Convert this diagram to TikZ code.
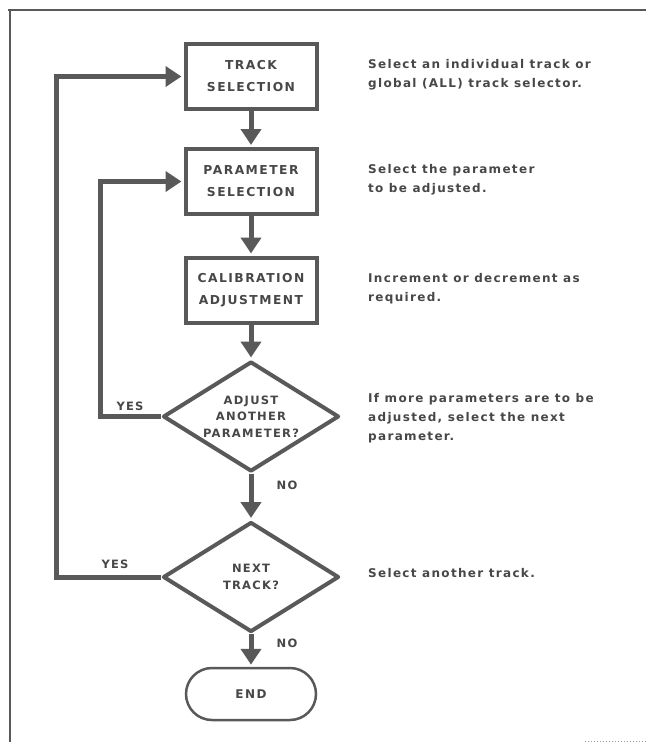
\documentclass[tikz,border=0pt]{standalone}
\usepackage{fontspec}
\newfontfamily\lbl[LetterSpace=11]{DejaVu Sans}
\newfontfamily\boxlbl[LetterSpace=12]{DejaVu Sans}
\usetikzlibrary{shapes.geometric,arrows.meta}
\definecolor{ink}{gray}{0.35}
\definecolor{txt}{gray}{0.28}
\begin{document}
\begin{tikzpicture}[x=1pt,y=-1pt,
  proc/.style={draw=ink, line width=4pt, minimum width=131pt, minimum height=65pt,
    align=center, inner sep=0pt, text=txt, font=\boxlbl\bfseries\fontsize{12.3}{22}\selectfont},
  decide/.style={diamond, draw=ink, line width=4pt, minimum width=176pt, minimum height=110pt,
    shape aspect=1.6, inner sep=0pt, align=center, text=txt, line join=round,
    font=\lbl\bfseries\fontsize{11.5}{16.5}\selectfont},
  term/.style={draw=ink, line width=2.5pt, rounded corners=26pt, minimum width=130pt,
    minimum height=52pt, text=txt, font=\boxlbl\bfseries\fontsize{12}{14}\selectfont},
  conn/.style={draw=ink, line width=5pt, line join=miter},
  tip/.style={-{Triangle[width=20pt,length=16pt]}, shorten >=2pt},
  note/.style={anchor=west, align=left, inner sep=0pt, text=txt,
    font=\lbl\bfseries\fontsize{12}{19}\selectfont},
  flag/.style={inner sep=0pt, text=txt, font=\lbl\bfseries\fontsize{11.5}{14}\selectfont}]
\useasboundingbox (0,0) rectangle (646,742);
% frame
\draw[black!65, line width=1.2pt] (8,10) -- (646,10);
\draw[black!65, line width=1.2pt] (10,10) -- (10,742);
\draw[black!40, line width=1pt, dotted] (585,741) -- (646,741);
% nodes
\node[proc] (track) at (251,76.5) {TRACK\\SELECTION};
\node[proc] (param) at (251,181.5) {PARAMETER\\SELECTION};
\node[proc] (calib) at (251,290) {CALIBRATION\\ADJUSTMENT};
\node[decide] (adj) at (251,416.5) {ADJUST\\ANOTHER\\PARAMETER?};
\node[decide] (next) at (251,577) {NEXT\\TRACK?};
\node[term] (end) at (251,694) {END};
% connectors
\draw[conn,tip] (track.south) -- (param.north);
\draw[conn,tip] (param.south) -- (calib.north);
\draw[conn,tip] (calib.south) -- (adj.north);
\draw[conn,tip] (adj.south) -- (next.north);
\draw[conn,tip] (next.south) -- (end.north);
\draw[conn,tip] (adj.west) -- ++(-61,0) |- (param.west);
\draw[conn,tip] (next.west) -- ++(-105,0) |- (track.west);
% labels
\node[flag] (yes1) at (130,406) {YES};
\node[flag] (yes2) at (115,564) {YES};
\node[flag] (no1) at (287,485) {NO};
\node[flag] (no2) at (287,643) {NO};
% notes
\node[note] (n1) at (368,75) {Select an individual track or\\global (ALL) track selector.};
\node[note] (n2) at (368,180) {Select the parameter\\to be adjusted.};
\node[note] (n3) at (368,289) {Increment or decrement as\\required.};
\node[note] (n4) at (368,418) {If more parameters are to be\\adjusted, select the next\\parameter.};
\node[note] (n5) at (368,573) {Select another track.};
\end{tikzpicture}
\end{document}
